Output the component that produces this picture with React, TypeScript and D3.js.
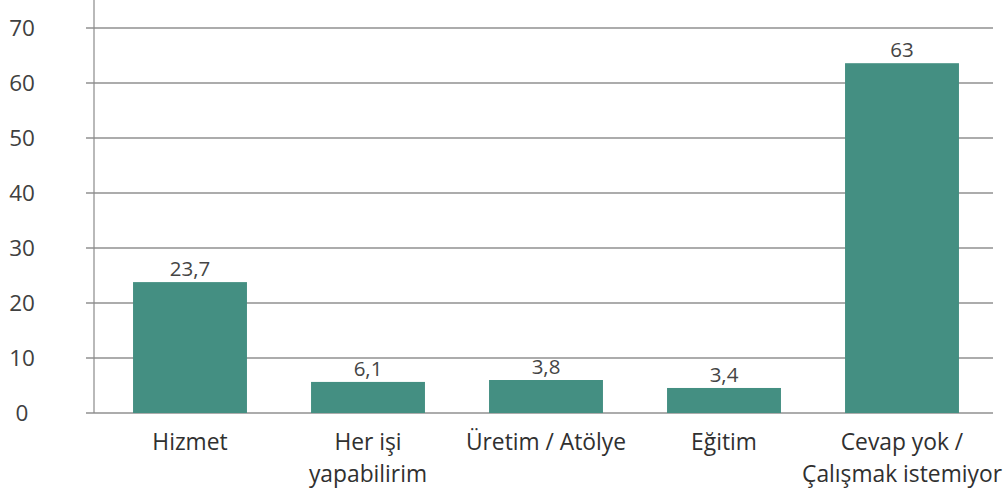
import React from "react";
import * as d3 from "d3";

const categories: string[][] = [
  ["Hizmet"],
  ["Her işi", "yapabilirim"],
  ["Üretim / Atölye"],
  ["Eğitim"],
  ["Cevap yok /", "Çalışmak istemiyor"],
];
const barValues: number[] = [23.8, 5.65, 6.0, 4.55, 63.6];
const valueLabels: string[] = ["23,7", "6,1", "3,8", "3,4", "63"];
const yTicks: number[] = [0, 10, 20, 30, 40, 50, 60, 70];

const W = 1007;
const H = 495;
const FONT = "'Open Sans', 'DejaVu Sans', sans-serif";

export default function App() {
  const y = d3.scaleLinear().domain([0, 70]).range([413, 28]);
  const x = d3
    .scaleBand<number>()
    .domain(categories.map((_, i) => i))
    .range([101, 991])
    .paddingInner(0.36)
    .paddingOuter(0.18);

  return (
    <svg
      width={W}
      height={H}
      style={{ position: "absolute", left: 0, top: 0, background: "#fff" }}
    >
      {yTicks.map((t) => (
        <g key={t}>
          <line
            x1={86}
            x2={993}
            y1={y(t)}
            y2={y(t)}
            stroke="#5a5a5a"
            strokeWidth={1.2}
          />
          <text
            x={22}
            y={y(t)}
            dy="0.36em"
            textAnchor="middle"
            fontFamily={FONT}
            fontSize={22.5}
            fill="#404040"
          >
            {t}
          </text>
        </g>
      ))}
      <line x1={94} x2={94} y1={0} y2={413} stroke="#8a8a8a" strokeWidth={1.2} />
      {barValues.map((v, i) => (
        <rect
          key={i}
          x={x(i)!}
          width={x.bandwidth()}
          y={y(v)}
          height={y(0) - y(v)}
          fill="#448f82"
        />
      ))}
      {barValues.map((v, i) => (
        <text
          key={"l" + i}
          x={x(i)! + x.bandwidth() / 2}
          y={y(v) - 6}
          textAnchor="middle"
          fontFamily={FONT}
          fontSize={20.5}
          fill="#454545"
        >
          {valueLabels[i]}
        </text>
      ))}
      {categories.map((lines, i) => (
        <text
          key={"c" + i}
          x={x(i)! + x.bandwidth() / 2}
          y={450}
          textAnchor="middle"
          fontFamily={FONT}
          fontSize={22.8}
          fill="#303030"
        >
          {lines.map((ln, j) => (
            <tspan key={j} x={x(i)! + x.bandwidth() / 2} dy={j === 0 ? 0 : 32}>
              {ln}
            </tspan>
          ))}
        </text>
      ))}
    </svg>
  );
}
